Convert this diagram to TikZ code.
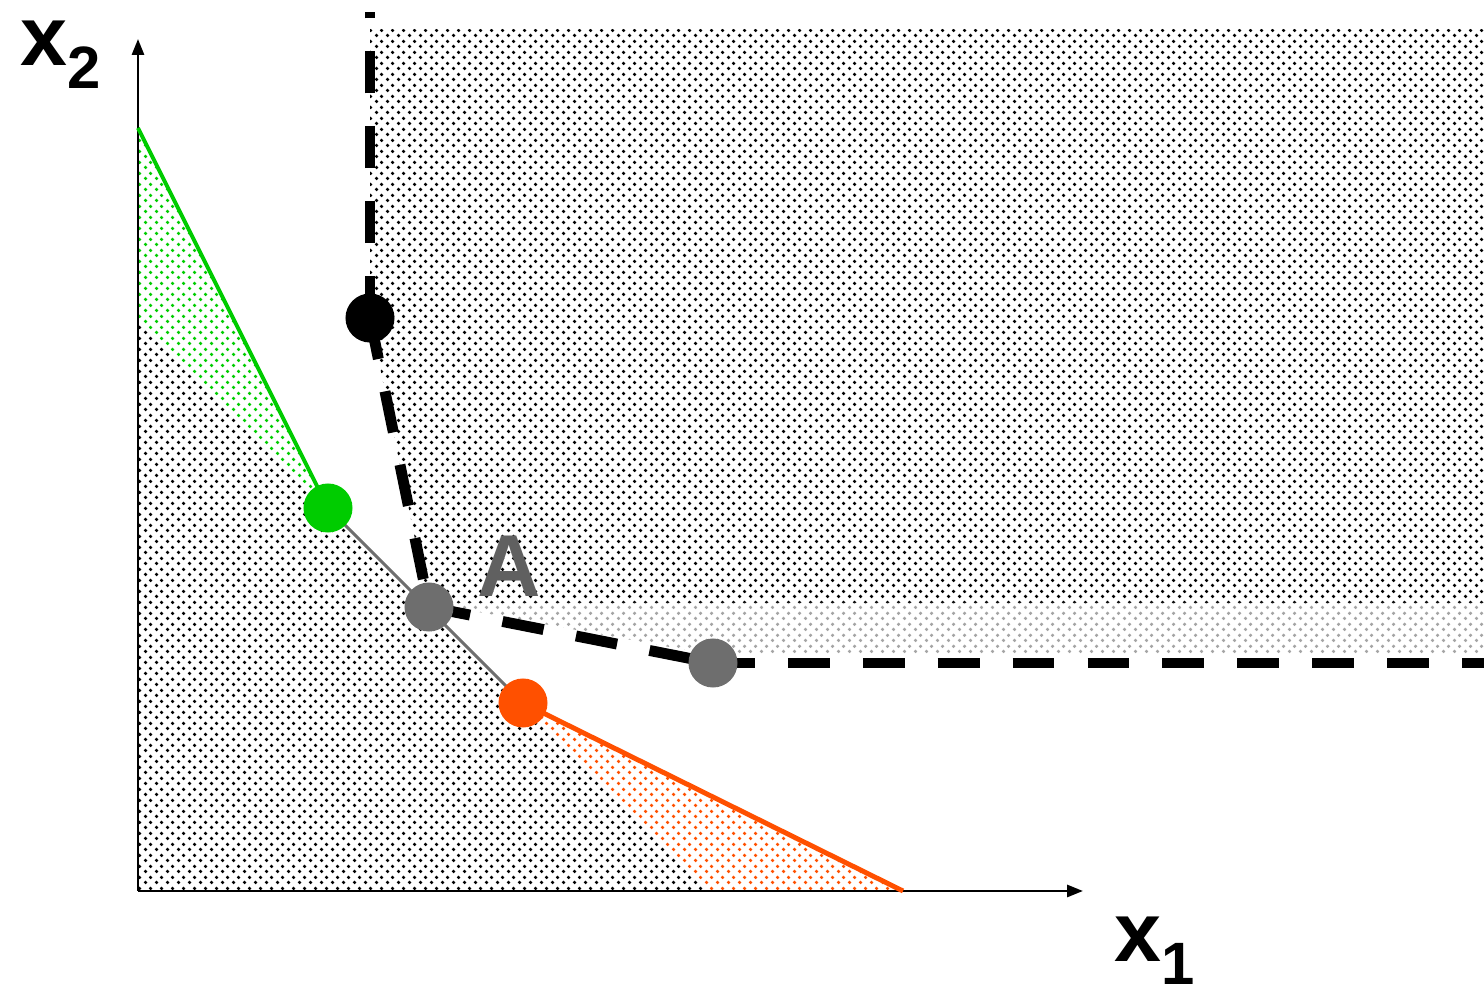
\documentclass[tikz,border=0pt]{standalone}
\usepackage{fontspec}
\setmainfont{Liberation Sans}
\usepackage{xcolor}
\usetikzlibrary{
  positioning, arrows.meta, patterns.meta, backgrounds
}
\definecolor{ptgreen}{RGB}{0,204,0}
\definecolor{ptorange}{RGB}{255,80,0}
\definecolor{ptgray}{RGB}{110,110,110}
\definecolor{lblgray}{RGB}{96,96,96}
\definecolor{dotgray}{RGB}{165,165,165}

\tikzdeclarepattern{
  name=tinydots,
  type=uncolored,
  bounding box={(0pt,0pt) and (3.13pt,3.13pt)},
  tile size={(3.13pt,3.13pt)},
  code={
    \fill (0.78pt,0.78pt) circle (0.55pt);
    \fill (2.35pt,2.35pt) circle (0.55pt);
  }
}

\tikzset{
  axisline/.style={-{Triangle[length=4.5pt,width=3.4pt]}, line width=0.75pt},
  frontline/.style={line width=3.1pt, dash pattern=on 11.9pt off 9.4pt},
  ptdot/.style={circle, fill=#1, inner sep=0pt, minimum size=0.49cm},
  region/.style={pattern=tinydots, pattern color=#1},
  axlabel/.style={inner sep=0pt, anchor=base west, font=\bfseries}
}

\begin{document}
\begin{tikzpicture}[x=0.01cm, y=-0.01cm]
\useasboundingbox (0,0) rectangle (1484,995);

%% Fixed points
\coordinate (o) at (138,891);
\coordinate (ytip) at (138,39);
\coordinate (xtip) at (1083,891);
\coordinate (gtop) at (138,128);
\coordinate (oend) at (903,891);
\coordinate (vtop) at (370,12);
\coordinate (rend) at (1484,663);

%% Points
\node[ptdot=black] (blk) at (370,318) {};
\node[ptdot=ptgreen] (grn) at (328,508) {};
\node[ptdot=ptgray] (ptA) at (429,607) {};
\node[ptdot=ptorange] (org) at (523,703) {};
\node[ptdot=ptgray] (gry) at (713,663) {};

%% Labels
\node[axlabel] (lx2) at (20,66) {\fontsize{24}{24}\selectfont x\raisebox{-6.3pt}{\fontsize{17}{17}\selectfont 2}};
\node[axlabel] (lx1) at (1114,962) {\fontsize{24}{24}\selectfont x\raisebox{-6.3pt}{\fontsize{17}{17}\selectfont 1}};
\node[font=\bfseries\fontsize{25}{25}\selectfont, text=lblgray, inner sep=0pt] (lA) at (509,566) {A};

\begin{scope}[on background layer]
%% Dotted regions
\path[region=black] (370,29) -- (1484,29) -- (1484,603) -- (428,603) -- (blk.center) -- cycle;
\path[region=dotgray] (429,603) -- (1484,603) -- (1484,655) -- (713,655) -- cycle;
\path[region=black] (138,318) -- (711,891) -- (o) -- cycle;
\path[region=ptgreen] (gtop) -- (grn.center) -- (138,318) -- cycle;
\path[region=ptorange] (org.center) -- (oend) -- (711,891) -- cycle;

%% Axes
\draw[axisline] (o) -- (ytip);
\draw[axisline] (o) -- (xtip);

%% Lines
\draw[ptgray, line width=0.85pt] (grn.center) -- (org.center);
\draw[ptgreen, line width=1.1pt] (gtop) -- (grn.center);
\draw[ptorange, line width=1.4pt] (org.center) -- (oend);

%% Dashed front
\draw[frontline] (blk.center) -- (vtop);
\draw[frontline] (blk.center) -- (ptA.center);
\draw[frontline] (ptA.center) -- (gry.center);
\draw[frontline] (gry.center) -- (rend);
\end{scope}

\end{tikzpicture}
\end{document}
